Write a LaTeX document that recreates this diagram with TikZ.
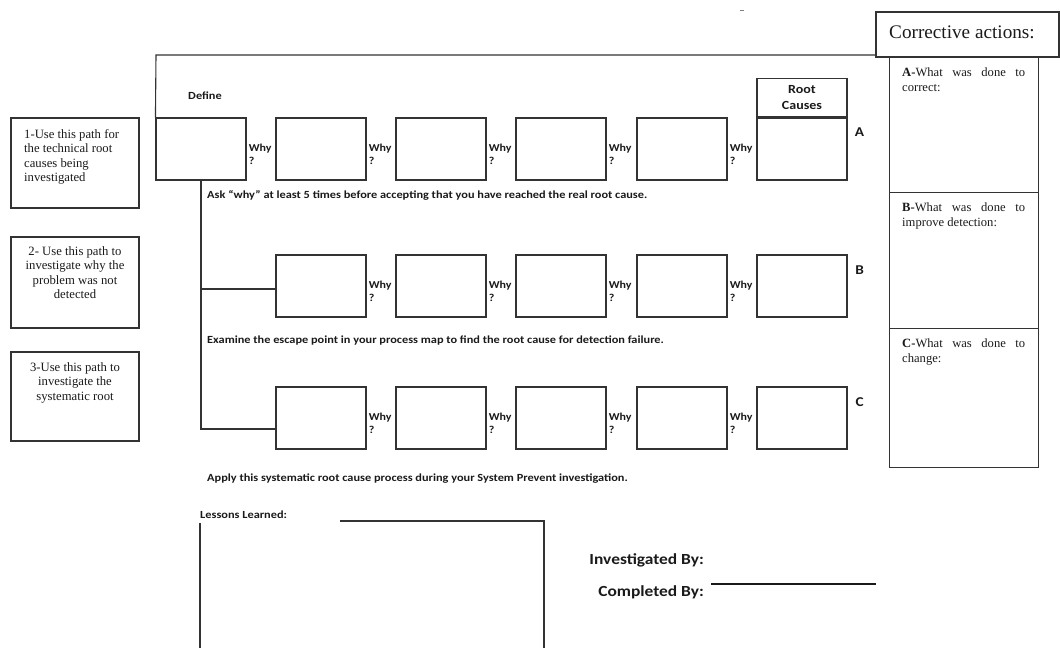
\documentclass[tikz,border=0pt]{standalone}
\usepackage{fontspec}
\setmainfont{Liberation Serif}
\newfontfamily\calfont[FakeStretch=1.13]{Carlito}
\usetikzlibrary{calc}
\definecolor{ink}{HTML}{1A1A1A}
\definecolor{edge}{HTML}{333333}
\tikzset{
  wbox/.style={draw=edge, line width=1.1pt, minimum width=90pt, minimum height=62pt, inner sep=0pt},
  frame/.style={draw=edge, line width=1.1pt, inner sep=0pt},
  link/.style={draw=edge, line width=1.1pt},
  whylbl/.style={font=\calfont\bfseries\fontsize{10.6}{13}\selectfont, text=ink, align=left, inner sep=0pt, anchor=west},
  note/.style={font=\calfont\bfseries\fontsize{10.9}{12}\selectfont, text=ink, inner sep=0pt},
  rowtag/.style={font=\calfont\bfseries\fontsize{13.5}{15}\selectfont, text=ink, inner sep=0pt, anchor=center},
  serifnote/.style={font=\fontsize{12.7}{14.5}\selectfont, text=ink, inner sep=0pt},
  colnote/.style={font=\fontsize{12.6}{15}\selectfont, text=ink, inner sep=0pt, anchor=north west, text width=123pt, align=justify},
  signoff/.style={font=\calfont\bfseries\fontsize{15.4}{17}\selectfont, text=ink, inner sep=0pt, anchor=east},
}
\begin{document}
\begin{tikzpicture}[x=1pt, y=-1pt]
\useasboundingbox (0,0) rectangle (1060,648);

% ---- row A: define box, why chain, root cause ----
\node[wbox] (a1) at (201,149) {};
\node[wbox] (a2) at (321,149) {};
\node[wbox] (a3) at (441,149) {};
\node[wbox] (a4) at (561,149) {};
\node[wbox] (a5) at (682,149) {};
\node[wbox] (a6) at (802,149) {};
\node[frame, minimum width=90pt, minimum height=38pt, anchor=south,
      font=\calfont\bfseries\fontsize{12.4}{16}\selectfont, align=center, text=ink]
      (rc) at (a6.north) {Root\\Causes};

% ---- row B ----
\node[wbox] (b1) at (321,286) {};
\node[wbox] (b2) at (441,286) {};
\node[wbox] (b3) at (561,286) {};
\node[wbox] (b4) at (682,286) {};
\node[wbox] (b5) at (802,286) {};

% ---- row C ----
\node[wbox] (c1) at (321,418) {};
\node[wbox] (c2) at (441,418) {};
\node[wbox] (c3) at (561,418) {};
\node[wbox] (c4) at (682,418) {};
\node[wbox] (c5) at (802,418) {};

% why labels between the boxes
\foreach \n in {a1,a2,a3,a4,a5,b1,b2,b3,b4,c1,c2,c3,c4}
  \node[whylbl] at ($(\n.east)+(2,5)$) {Why\\?};

% row tags
\node[rowtag] (tagA) at ($(a6.north east)+(12,15)$) {A};
\node[rowtag] (tagB) at ($(b5.north east)+(12,16)$) {B};
\node[rowtag] (tagC) at ($(c5.north east)+(12,16)$) {C};

% ---- corrective actions header and column ----
\node[frame, minimum width=183pt, minimum height=45pt] (ca) at (967.5,34.5) {};
\node[anchor=west, inner sep=0pt, font=\fontsize{19.2}{22}\selectfont, text=ink]
      (catxt) at (889,32) {Corrective actions:};
\node[frame, minimum width=149pt, minimum height=135pt, anchor=north west] (colA) at (889,57) {};
\node[frame, minimum width=149pt, minimum height=136pt, anchor=north west] (colB) at (889,192) {};
\node[frame, minimum width=149pt, minimum height=139pt, anchor=north west] (colC) at (889,328) {};
\node[colnote] (tA) at ($(colA.north west)+(13,11)$) {\textbf{A-}What was done to \mbox{correct:}};
\node[colnote] (tB) at ($(colB.north west)+(13,11)$) {\textbf{B-}What was done to \mbox{improve} \mbox{detection:}};
\node[colnote] (tC) at ($(colC.north west)+(13,11)$) {\textbf{C-}What was done to \mbox{change:}};

% ---- frame line from the header across to the define box ----
\coordinate (topL) at (156,55);
\draw[link] (a1.north west) -- (topL) -- (topL -| ca.west);

% ---- branches from the define box to rows B and C ----
\draw[link] (a1.south) |- ($(c1.west)+(0,11)$);
\draw[link] ($(a1.south |- b1.west)+(0,3)$) -- ($(b1.west)+(0,3)$);

% ---- guidance lines ----
\node[note, anchor=center] (def) at (205,96) {Define};
\node[note, anchor=west] (ask) at (207,195) {Ask “why” at least 5 times before accepting that you have reached the real root cause.};
\node[note, anchor=west] (esc) at (207,341) {Examine the escape point in your process map to find the root cause for detection failure.};
\node[note, anchor=west] (app) at (207,479) {Apply this systematic root cause process during your System Prevent investigation.};

% ---- path explanations on the left ----
\node[frame, minimum width=128pt, minimum height=90pt] (p1) at (75,163) {};
\node[frame, minimum width=128pt, minimum height=91pt] (p2) at (75,282.5) {};
\node[frame, minimum width=128pt, minimum height=89pt] (p3) at (75,396.5) {};
\node[serifnote, anchor=north west, align=left] (p1t) at (24,129)
  {1-Use this path for\\the technical root\\causes being\\investigated};
\node[serifnote, anchor=north, align=center] (p2t) at ($(p2.north)+(0,10)$)
  {2- Use this path to\\investigate why the\\problem was not\\detected};
\node[serifnote, anchor=north, align=center] (p3t) at ($(p3.north)+(0,11)$)
  {3-Use this path to\\investigate the\\systematic root};

% ---- lessons learned ----
\node[note, anchor=west] (ll) at (200,515) {Lessons Learned:};
\coordinate (llA) at (200,523);
\coordinate (llB) at (200,648);
\coordinate (llC) at (340,521);
\coordinate (llD) at (544,521);
\coordinate (llE) at (544,648);
\draw[link] (llA) -- (llB);
\draw[link] (llC) -- (llD) -- (llE);

% ---- sign-off ----
\node[signoff] (inv) at (704,560) {Investigated By:};
\node[signoff] (cmp) at (704,592) {Completed By:};
\coordinate (sgA) at (711,584);
\coordinate (sgB) at (876,584);
\draw[line width=1.5pt, ink] (sgA) -- (sgB);

% small mark at the top
\coordinate (mkA) at (740,10);
\coordinate (mkB) at (744,10);
\draw[gray, line width=0.6pt] (mkA) -- (mkB);
\end{tikzpicture}
\end{document}
